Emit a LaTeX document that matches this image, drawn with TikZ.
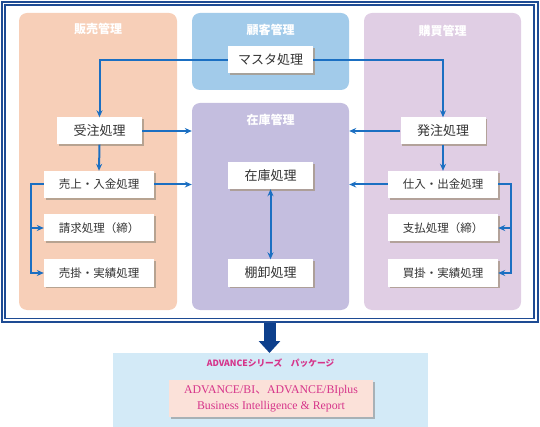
\documentclass[tikz,border=0pt]{standalone}
\usepackage{fontspec}
\setmainfont{Liberation Serif}
\newfontfamily\cjk{Noto Sans CJK JP}
\usetikzlibrary{shadows,arrows.meta}
\definecolor{pinkpanel}{HTML}{F7CFB8}
\definecolor{bluepanel}{HTML}{A2CBEA}
\definecolor{purppanel}{HTML}{C4BEDF}
\definecolor{lilapanel}{HTML}{E0CEE4}
\definecolor{connblue}{HTML}{1B6FC2}
\definecolor{framec}{HTML}{1E4B93}
\definecolor{bigarrow}{HTML}{0D3F8C}
\definecolor{pkgblue}{HTML}{D3EAF7}
\definecolor{pkgpink}{HTML}{FBE1D9}
\definecolor{magtext}{HTML}{D6348A}
\definecolor{shadowc}{HTML}{A89888}
\tikzset{
  panel/.style={rounded corners=8pt, draw=none, inner sep=0pt},
  ptitle/.style={text=white, font=\cjk\bfseries\fontsize{12}{14}\selectfont},
  proc/.style={fill=white, draw=none, minimum height=27pt, inner sep=0pt,
    font=\cjk\fontsize{13}{15}\selectfont, text=black!80,
    drop shadow={shadow xshift=1.6pt, shadow yshift=-1.6pt, fill=shadowc, opacity=0.8}},
  procs/.style={proc, minimum width=85pt},
  procw/.style={proc, minimum width=110pt, font=\cjk\fontsize{11.5}{13}\selectfont},
  conn/.style={draw=connblue, line width=2pt, -{Stealth[length=7pt,width=6pt]}},
}
\begin{document}
\begin{tikzpicture}[x=1pt,y=-1pt]
\useasboundingbox (0,0) rectangle (540,427);
% frame
\draw[framec, line width=1.7pt] (1.8,1.8) rectangle (537.7,322.2);
\draw[framec, line width=1.5pt] (5.2,5.2) rectangle (534,318.7);
% panels
\node[panel, fill=pinkpanel, minimum width=158pt, minimum height=297pt] (hpanel) at (98,161.5) {};
\node[panel, fill=bluepanel, minimum width=157pt, minimum height=77pt] (kpanel) at (270.5,51.5) {};
\node[panel, fill=purppanel, minimum width=157pt, minimum height=207pt] (zpanel) at (270.5,206.5) {};
\node[panel, fill=lilapanel, minimum width=157pt, minimum height=297pt] (bpanel) at (442.5,161.5) {};
\node[ptitle] (t1) at (98,29) {販売管理};
\node[ptitle] (t2) at (270.5,30) {顧客管理};
\node[ptitle] (t3) at (270.5,120) {在庫管理};
\node[ptitle] (t4) at (442.5,31) {購買管理};
% process nodes
\node[procs] (master) at (270.5,60) {マスタ処理};
\node[procs] (juchu) at (99.5,131) {受注処理};
\node[procs] (hatchu) at (443,131) {発注処理};
\node[procw] (uriage) at (99,184.5) {売上・入金処理};
\node[procw] (seikyu) at (99,228) {請求処理（締）};
\node[procw] (urikake) at (99,273) {売掛・実績処理};
\node[procw] (shiire) at (443,184.5) {仕入・出金処理};
\node[procw] (shiharai) at (443,228) {支払処理（締）};
\node[procw] (kaikake) at (443,273) {買掛・実績処理};
\node[procs] (zaiko) at (270.5,175.5) {在庫処理};
\node[procs] (tana) at (270.5,273) {棚卸処理};
% connectors
\draw[conn] (master.west) -| (juchu.north);
\draw[conn] (master.east) -| (hatchu.north);
\draw[conn] (juchu.east) -- (juchu.east -| zpanel.west);
\draw[conn] (hatchu.west) -- (hatchu.west -| zpanel.east);
\draw[conn] (juchu.south) -- (uriage.north);
\draw[conn] (hatchu.south) -- (shiire.north);
\draw[conn] (uriage.east) -- (uriage.east -| zpanel.west);
\draw[conn] (shiire.west) -- (shiire.west -| zpanel.east);
\coordinate (lb) at (31,0);
\coordinate (rb) at (511,0);
\draw[conn] (uriage.west) -| (lb |- urikake.west) -- (urikake.west);
\draw[conn] (lb |- seikyu.west) -- (seikyu.west);
\draw[conn] (shiire.east) -| (rb |- kaikake.east) -- (kaikake.east);
\draw[conn] (rb |- shiharai.east) -- (shiharai.east);
\draw[conn, {Stealth[length=7pt,width=6pt]}-{Stealth[length=7pt,width=6pt]}] (zaiko.south) -- (tana.north);
% package box
\node[fill=pkgblue, draw=none, minimum width=315pt, minimum height=74pt, anchor=north, inner sep=0pt] (pkg) at (270.5,353) {};
\coordinate (framebot) at (269.5,323);
\draw[bigarrow, line width=12pt, -{Triangle[length=12pt,width=21pt]}] (framebot) -- (framebot |- pkg.north);
\node[text=magtext, font=\cjk\bfseries\fontsize{8.7}{10}\selectfont] (pkgt) at (270.5,363) {ADVANCEシリーズ　パッケージ};
\node[fill=pkgpink, draw=none, minimum width=204pt, minimum height=37pt, inner sep=0pt,
  align=center, text=magtext, font=\fontsize{11.8}{15.5}\selectfont,
  drop shadow={shadow xshift=1.6pt, shadow yshift=-1.6pt, fill=black!45, opacity=0.6}] (bi) at (271,398.5)
  {ADVANCE/BI{\cjk 、}ADVANCE/BIplus\\Business Intelligence \& Report};
\end{tikzpicture}
\end{document}
